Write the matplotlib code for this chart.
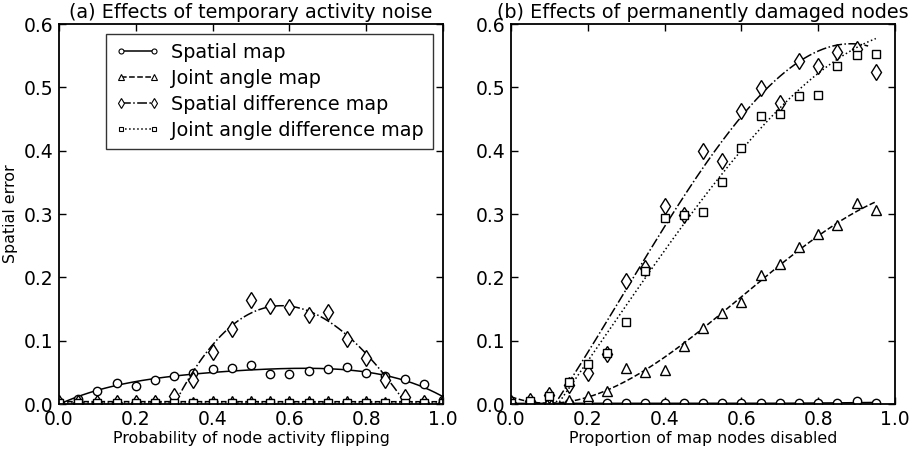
import numpy as np
import matplotlib
matplotlib.use("Agg")
import matplotlib.pyplot as plt
from matplotlib.lines import Line2D

# ---- Data: panel (a) ----
xa = [0.0, 0.05, 0.1, 0.15, 0.2, 0.25, 0.3, 0.35, 0.4, 0.45, 0.5,
      0.55, 0.6, 0.65, 0.7, 0.75, 0.8, 0.85, 0.9, 0.95, 1.0]
a_spatial = [0.003, 0.008, 0.021, 0.033, 0.029, 0.038, 0.045, 0.049, 0.055, 0.057, 0.061,
             0.048, 0.048, 0.052, 0.056, 0.058, 0.049, 0.045, 0.040, 0.032, 0.006]
a_joint = [0.003, 0.004, 0.004, 0.004, 0.003, 0.004, 0.004, 0.003, 0.004, 0.004, 0.004,
           0.004, 0.004, 0.004, 0.004, 0.004, 0.004, 0.003, 0.004, 0.003, 0.003]
a_sdiff = [0.002, 0.002, 0.002, 0.002, 0.002, 0.002, 0.012, 0.038, 0.082, 0.119, 0.165,
           0.154, 0.153, 0.141, 0.145, 0.102, 0.073, 0.038, 0.011, 0.002, 0.002]
a_jdiff = [0.002, 0.002, 0.002, 0.002, 0.002, 0.002, 0.002, 0.002, 0.002, 0.002, 0.002,
           0.002, 0.002, 0.002, 0.002, 0.002, 0.002, 0.002, 0.002, 0.002, 0.002]

# ---- Data: panel (b) ----
xb = [0.0, 0.05, 0.1, 0.15, 0.2, 0.25, 0.3, 0.35, 0.4, 0.45,
      0.5, 0.55, 0.6, 0.65, 0.7, 0.75, 0.8, 0.85, 0.9, 0.95]
b_spatial = [0.001, 0.001, 0.001, 0.001, 0.001, 0.001, 0.001, 0.001, 0.001, 0.001,
             0.001, 0.001, 0.001, 0.001, 0.001, 0.001, 0.001, 0.001, 0.005, 0.001]
b_joint = [0.003, 0.005, 0.007, 0.007, 0.012, 0.021, 0.057, 0.050, 0.053, 0.091,
           0.120, 0.143, 0.161, 0.203, 0.221, 0.248, 0.269, 0.282, 0.317, 0.307]
b_sdiff = [0.002, 0.004, 0.014, 0.030, 0.049, 0.079, 0.194, 0.215, 0.313, 0.298,
           0.400, 0.383, 0.462, 0.499, 0.475, 0.541, 0.533, 0.556, 0.560, 0.525]
b_jdiff = [0.002, 0.004, 0.013, 0.034, 0.063, 0.080, 0.129, 0.210, 0.293, 0.298,
           0.303, 0.350, 0.404, 0.454, 0.458, 0.487, 0.488, 0.534, 0.551, 0.552]

# Trend-curve values for the two difference maps in (b)
b_sdiff_trend_x = [0.1, 0.2, 0.274, 0.352, 0.43, 0.5, 0.6, 0.68, 0.8, 0.93]
b_sdiff_trend_y = [0.0, 0.065, 0.149, 0.218, 0.32, 0.40, 0.459, 0.496, 0.538, 0.576]
b_jdiff_trend_x = [0.12, 0.2, 0.3, 0.378, 0.449, 0.6, 0.753, 0.95]
b_jdiff_trend_y = [0.005, 0.06, 0.149, 0.218, 0.30, 0.404, 0.488, 0.58]

labels = ["Spatial map", "Joint angle map", "Spatial difference map",
          "Joint angle difference map"]
markers = ["o", "^", "d", "s"]
msizes = [6, 7, 8, 6]
lstyles = ["-", "--", "-.", ":"]

plt.rcParams["font.family"] = "DejaVu Sans"

fig = plt.figure(figsize=(9.12, 4.51), dpi=100)
ax1 = fig.add_axes([59/912, 47/451, 384/912, 380/451])
ax2 = fig.add_axes([511/912, 47/451, 384/912, 380/451])


def fit_curve(x, y, deg, lo=None, hi=None):
    x = np.asarray(x); y = np.asarray(y)
    lo = x.min() if lo is None else lo
    hi = x.max() if hi is None else hi
    m = (x >= lo - 1e-9) & (x <= hi + 1e-9)
    p = np.polyfit(x[m], y[m], deg)
    xs = np.linspace(lo, hi, 200)
    return xs, np.polyval(p, xs)


def draw(ax, x, series, fits):
    for i, y in enumerate(series):
        f = fits[i]
        if isinstance(f[0], list):
            xs, ys = fit_curve(f[0], f[1], 3)
        else:
            xs, ys = fit_curve(x, y, *f)
        ax.plot(xs, ys, color="black", ls=lstyles[i], lw=1.1)
        ax.plot(x, y, ls="none", marker=markers[i], ms=msizes[i],
                mfc="white", mec="black", mew=1)
    ax.set_xlim(0, 1)
    ax.set_ylim(0, 0.6)
    ax.set_xticks(np.arange(0, 1.01, 0.2))
    ax.set_yticks(np.arange(0, 0.61, 0.1))
    ax.tick_params(direction="in", top=True, right=True, labelsize=13.5,
                   length=5, width=1, pad=4)
    for s in ax.spines.values():
        s.set_linewidth(1.3)


draw(ax1, xa, [a_spatial, a_joint, a_sdiff, a_jdiff],
     [(4,), (1,), (3, 0.3, 0.9), (1,)])
draw(ax2, xb, [b_spatial, b_joint, b_sdiff, b_jdiff],
     [(3,), (3,), (b_sdiff_trend_x, b_sdiff_trend_y),
      (b_jdiff_trend_x, b_jdiff_trend_y)])

ax1.set_title("(a) Effects of temporary activity noise", fontsize=13.8, pad=4)
ax2.set_title("(b) Effects of permanently damaged nodes", fontsize=13.8, pad=4)
ax1.set_xlabel("Probability of node activity flipping", fontsize=11.4, labelpad=2)
ax2.set_xlabel("Proportion of map nodes disabled", fontsize=11.4, labelpad=2)
ax1.set_ylabel("Spatial error", fontsize=11.4)

handles = [Line2D([0], [0], color="black", ls=lstyles[i], lw=1.1, marker=markers[i],
                  ms=msizes[i] * 0.6, mfc="white", mec="black", mew=0.8)
           for i in range(4)]
leg = ax1.legend(handles, labels, loc="upper right", fontsize=13.8, numpoints=2,
                 frameon=True, fancybox=False, handlelength=2.3,
                 borderaxespad=0.5, labelspacing=0.36, borderpad=0.5,
                 handletextpad=0.6)
leg.get_frame().set_edgecolor("black")
leg.get_frame().set_linewidth(1)

fig.savefig("out.png", dpi=100, facecolor="white")
